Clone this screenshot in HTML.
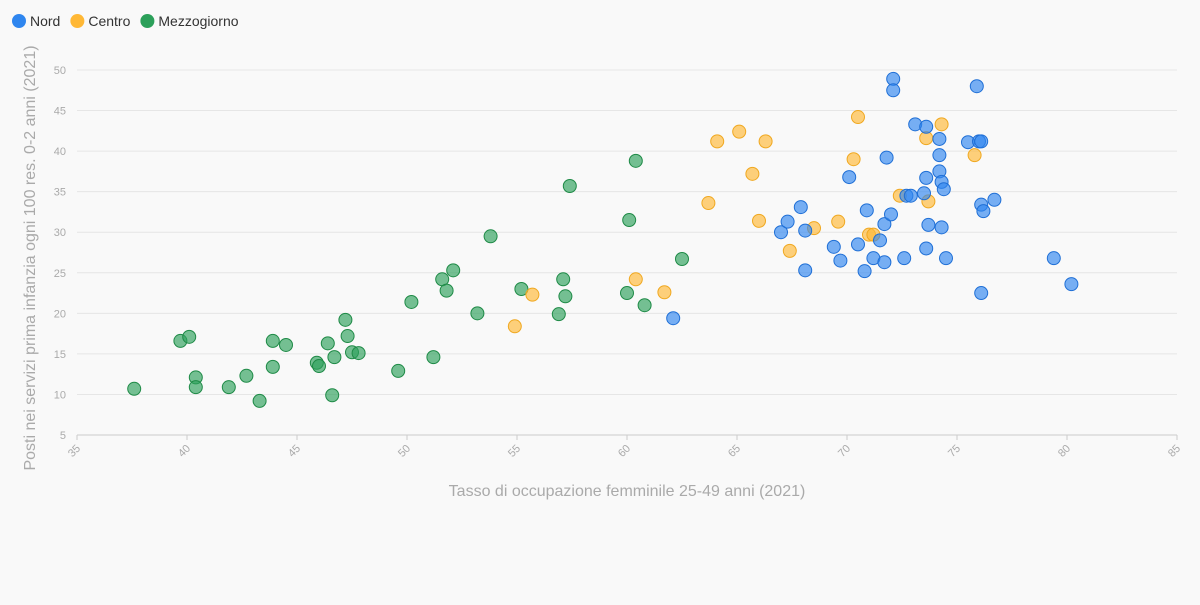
<!DOCTYPE html>
<html><head><meta charset="utf-8"><style>
html,body{margin:0;padding:0;background:#f9f9f9;}
body{width:1200px;height:600px;overflow:hidden;font-family:"Liberation Sans",sans-serif;}
</style></head><body>
<svg id="chart" width="1200" height="600" xmlns="http://www.w3.org/2000/svg"></svg>
<script>
const nordX=[62.1,67.0,67.3,67.9,68.1,68.1,69.4,69.7,70.1,70.5,70.8,70.9,71.2,71.5,71.7,71.7,71.8,72.0,72.1,72.1,72.6,72.7,72.9,73.1,73.5,73.6,73.6,73.6,73.7,74.2,74.2,74.2,74.3,74.3,74.4,74.5,75.5,75.9,76.0,76.1,76.1,76.1,76.2,76.7,79.4,80.2];
const nordY=[19.4,30.0,31.3,33.1,30.2,25.3,28.2,26.5,36.8,28.5,25.2,32.7,26.8,29.0,26.3,31.0,39.2,32.2,48.9,47.5,26.8,34.5,34.5,43.3,34.8,43.0,36.7,28.0,30.9,41.5,39.5,37.5,36.2,30.6,35.3,26.8,41.1,48.0,41.2,41.2,33.4,22.5,32.6,34.0,26.8,23.6];
const centroX=[54.9,55.7,60.4,61.7,63.7,64.1,65.1,65.7,66.0,66.3,67.4,68.5,69.6,70.3,70.5,71.0,71.2,72.4,73.6,73.7,74.3,75.8];
const centroY=[18.4,22.3,24.2,22.6,33.6,41.2,42.4,37.2,31.4,41.2,27.7,30.5,31.3,39.0,44.2,29.7,29.7,34.5,41.6,33.8,43.3,39.5];
const sudX=[37.6,39.7,40.1,40.4,40.4,41.9,42.7,43.3,43.9,43.9,44.5,45.9,46.0,46.4,46.6,46.7,47.2,47.3,47.5,47.8,49.6,50.2,51.2,51.6,51.8,52.1,53.2,53.8,55.2,56.9,57.1,57.2,57.4,60.0,60.1,60.4,60.8,62.5];
const sudY=[10.7,16.6,17.1,12.1,10.9,10.9,12.3,9.2,16.6,13.4,16.1,13.9,13.5,16.3,9.9,14.6,19.2,17.2,15.2,15.1,12.9,21.4,14.6,24.2,22.8,25.3,20.0,29.5,23.0,19.9,24.2,22.1,35.7,22.5,31.5,38.8,21.0,26.7];
const xTicks=[35,40,45,50,55,60,65,70,75,80,85];
const yTicks=[5,10,15,20,25,30,35,40,45,50];

const NS="http://www.w3.org/2000/svg";
const svg=document.getElementById('chart');
const X0=77,X1=1177,Y0=435,Y1=70;
const sx=v=>X0+(v-35)/50*(X1-X0);
const sy=v=>Y0-(v-5)/45*(Y0-Y1);
function mk(tag,attrs,parent){const e=document.createElementNS(NS,tag);for(const k in attrs)e.setAttribute(k,attrs[k]);(parent||svg).appendChild(e);return e;}

const grid=mk('g',{});


yTicks.forEach(t=>{
  const l=mk('line',{x1:X0,x2:X1,y1:sy(t),y2:sy(t),stroke:'#e6e6e6','stroke-width':1},grid);
  
  
  const tx=mk('text',{x:66,y:sy(t)+4,'text-anchor':'end','font-size':11,fill:'#aaa'});
  
  
  tx.textContent=t;
});
xTicks.forEach(t=>{
  const l=mk('line',{x1:sx(t),x2:sx(t),y1:Y0,y2:Y0+5,stroke:'#ccc'});
  
  
  const tx=mk('text',{x:sx(t)+4,y:Y0+14,'text-anchor':'end','font-size':11,fill:'#aaa',transform:`rotate(-45 ${sx(t)+4} ${Y0+14})`});
  
  
  tx.textContent=t;
});
const ax=mk('line',{x1:X0,x2:X1,y1:Y0,y2:Y0,stroke:'#ccc'});



const xt=mk('text',{x:627,y:496,'text-anchor':'middle','font-size':16,fill:'#aaa'});


xt.textContent='Tasso di occupazione femminile 25-49 anni (2021)';
const yt=mk('text',{x:0,y:0,'text-anchor':'middle','font-size':16,fill:'#aaa',transform:'translate(35,258) rotate(-90)'});


yt.textContent='Posti nei servizi prima infanzia ogni 100 res. 0-2 anni (2021)';

function series(xs,ys,fill,stroke,name){
  const g=mk('g',{});
  
  
  xs.forEach((x,i)=>{
    const c=mk('circle',{cx:sx(x),cy:sy(ys[i]),r:6.5,fill:fill,'fill-opacity':0.65,stroke:stroke,'stroke-width':1},g);
    
    
  });
}
series(sudX,sudY,'#2ca05a','#1e8a46','mezzogiorno');
series(centroX,centroY,'#ffb836','#f0a820','centro');
series(nordX,nordY,'#2f86ef','#1f6fd6','nord');

const legend=[['Nord','#2f86ef'],['Centro','#ffb836'],['Mezzogiorno','#2ca05a']];
let lx=12;
legend.forEach(([n,c])=>{
  const g=mk('g',{});
  
  
  mk('circle',{cx:lx+7,cy:21,r:7,fill:c},g);
  const t=mk('text',{x:lx+18,y:26,'font-size':14,fill:'#333'},g);
  t.textContent=n;
  lx+=18+t.getComputedTextLength()+10;
});
</script>
</body></html>
